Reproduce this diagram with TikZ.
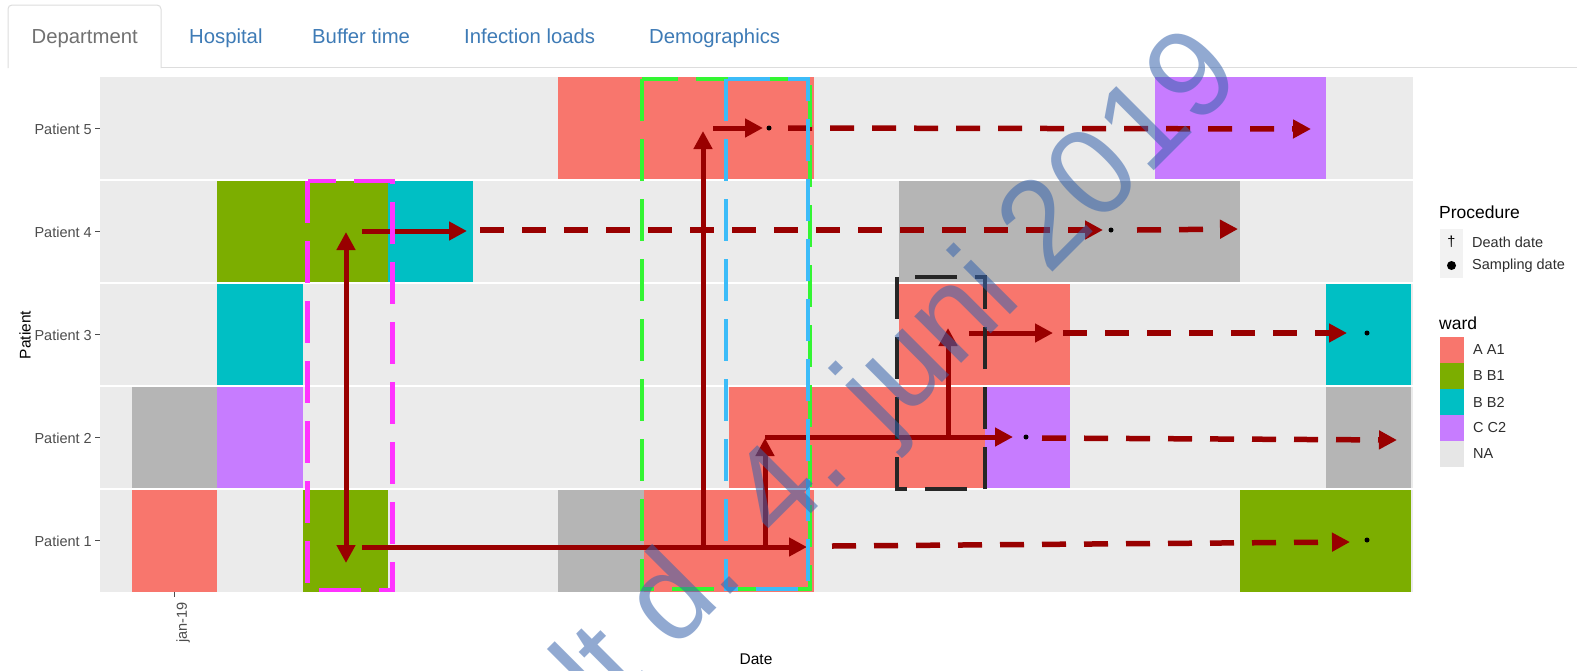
\documentclass[tikz,border=0pt]{standalone}
\usepackage{fontspec}
\setmainfont{Liberation Sans}
\usepackage{tikz}
\usepackage{xcolor}
\usetikzlibrary{arrows.meta}

\definecolor{wardA}{HTML}{F8766D}
\definecolor{wardB}{HTML}{7CAE00}
\definecolor{wardBB}{HTML}{00BFC4}
\definecolor{wardC}{HTML}{C77CFF}
\definecolor{wardNA}{HTML}{B5B5B5}
\definecolor{keyNA}{HTML}{E6E6E6}
\definecolor{panelgrey}{HTML}{EBEBEB}
\definecolor{axisgrey}{HTML}{4D4D4D}
\definecolor{tabgrey}{HTML}{DDDDDD}
\definecolor{linkblue}{HTML}{3E7BB6}
\definecolor{arrowred}{HTML}{990000}
\definecolor{boxmagenta}{HTML}{FF33FF}
\definecolor{boxgreen}{HTML}{33F533}
\definecolor{boxblue}{HTML}{3CBCF8}
\definecolor{boxblack}{HTML}{262626}
\definecolor{wmblue}{RGB}{55,100,173}

\begin{document}
\begin{tikzpicture}[
  x=1pt, y=-1pt,
  >={Triangle[length=18pt,width=18pt]},
  every node/.style={inner sep=0pt},
  tablabel/.style={font=\fontsize{20.3}{24}\selectfont, anchor=base west, text=linkblue},
  axistext/.style={font=\fontsize{14.5}{17}\selectfont, text=axisgrey},
  axistitle/.style={font=\fontsize{15.5}{18}\selectfont},
  legtitle/.style={font=\fontsize{17.5}{20}\selectfont, anchor=west},
  leglabel/.style={font=\fontsize{14.5}{17}\selectfont, anchor=west, text=axisgrey!60!black},
  solidarrow/.style={->, line width=5pt, arrowred},
  dasharrow/.style={->, line width=5.5pt, arrowred, dash pattern=on 24pt off 18pt},
  hilite/.style={line width=4.5pt, dash pattern=on 42pt off 18pt},
  sample/.style={circle, fill=black, minimum size=5pt},
  wmark/.style={font=\fontsize{125}{125}\selectfont, text=wmblue, text opacity=0.55}
]
\useasboundingbox (0,0) rectangle (1577,670);
\fill[white] (0,0) rectangle (1577,670);

% ---- TABS ----
\draw[tabgrey, line width=1pt] (161,67) -- (1577,67);
\draw[tabgrey, line width=1pt, fill=white, rounded corners=4pt]
  (8,68) -- (8,5) -- (161,5) -- (161,68);
\node[tablabel, text=axisgrey!80] (tabdept) at (31.5,43) {Department};
\node[tablabel] (tabhosp) at (189,43) {Hospital};
\node[tablabel] (tabbuffer) at (312,43) {Buffer time};
\node[tablabel] (tabinfect) at (464,43) {Infection loads};
\node[tablabel] (tabdemo) at (649,43) {Demographics};

% ==== PANEL ====
\fill[panelgrey] (100,77) rectangle (1413,592);

% ---- Patient 5 ----
\fill[wardA] (558.25,77) rectangle (814,180);
\fill[wardC] (1155,77) rectangle (1325.5,180);
% ---- Patient 4 ----
\fill[wardB] (217.25,180) rectangle (387.75,283);
\fill[wardBB] (387.75,180) rectangle (473,283);
\fill[wardNA] (899.25,180) rectangle (1240.25,283);
% ---- Patient 3 ----
\fill[wardBB] (217.25,283) rectangle (302.5,386);
\fill[wardA] (899.25,283) rectangle (1069.75,386);
\fill[wardBB] (1325.5,283) rectangle (1410.75,386);
% ---- Patient 2 ----
\fill[wardNA] (132,386) rectangle (217.25,489);
\fill[wardC] (217.25,386) rectangle (302.5,489);
\fill[wardA] (728.75,386) rectangle (984.5,489);
\fill[wardC] (984.5,386) rectangle (1069.75,489);
\fill[wardNA] (1325.5,386) rectangle (1410.75,489);
% ---- Patient 1 ----
\fill[wardA] (132,489) rectangle (217.25,592);
\fill[wardB] (302.5,489) rectangle (387.75,592);
\fill[wardNA] (558.25,489) rectangle (643.5,592);
\fill[wardA] (643.5,489) rectangle (814,592);
\fill[wardB] (1240.25,489) rectangle (1410.75,592);

% ---- row separators ----
\draw[white, line width=2pt] (100,180) -- (1413,180);
\draw[white, line width=2pt] (100,283) -- (1413,283);
\draw[white, line width=2pt] (100,386) -- (1413,386);
\draw[white, line width=2pt] (100,489) -- (1413,489);

% ---- AXES ----
\node[axistext, anchor=east] (lab5) at (92,129.5) {Patient 5};
\node[axistext, anchor=east] (lab4) at (92,232.5) {Patient 4};
\node[axistext, anchor=east] (lab3) at (92,335.5) {Patient 3};
\node[axistext, anchor=east] (lab2) at (92,438.5) {Patient 2};
\node[axistext, anchor=east] (lab1) at (92,541.5) {Patient 1};
\draw[axisgrey, line width=1.2pt] (95,128.5) -- (100,128.5);
\draw[axisgrey, line width=1.2pt] (95,231.5) -- (100,231.5);
\draw[axisgrey, line width=1.2pt] (95,334.5) -- (100,334.5);
\draw[axisgrey, line width=1.2pt] (95,437.5) -- (100,437.5);
\draw[axisgrey, line width=1.2pt] (95,540.5) -- (100,540.5);
\draw[axisgrey, line width=1.2pt] (174.5,592) -- (174.5,597);
\node[axistext, rotate=90, anchor=east] (xtick) at (183,602) {jan-19};
\node[axistitle, rotate=90] (ytitle) at (25,335) {Patient};
\node[axistitle] (xtitle) at (756,659) {Date};

% ==== CONNECTORS ====
\coordinate (p4top) at (346,232);
\coordinate (p1bot) at (346,563);
\coordinate (a4) at (362,231);   \coordinate (a4e) at (467,231);
\coordinate (a1) at (362,547);   \coordinate (a1e) at (807,547);
\coordinate (up5b) at (703,547); \coordinate (up5t) at (703,131);
\coordinate (a5) at (713,128);   \coordinate (a5e) at (763,128);
\coordinate (up2b) at (765,547); \coordinate (up2t) at (765,438);
\coordinate (a2) at (765,437);   \coordinate (a2e) at (1013,437);
\coordinate (up3b) at (948,437); \coordinate (up3t) at (948,328);
\coordinate (a3) at (969,333);   \coordinate (a3e) at (1053,333);

\draw[solidarrow, <->] (p4top) -- (p1bot);
\draw[solidarrow] (a4) -- (a4e);
\draw[solidarrow] (a1) -- (a1e);
\draw[solidarrow] (up5b) -- (up5t);
\draw[solidarrow] (a5) -- (a5e);
\draw[solidarrow] (up2b) -- (up2t);
\draw[solidarrow] (a2) -- (a2e);
\draw[solidarrow] (up3b) -- (up3t);
\draw[solidarrow] (a3) -- (a3e);

% ---- dashed follow-up ----
\coordinate (d5) at (788,128);   \coordinate (d5e) at (1311,129);
\coordinate (d4) at (480,230);   \coordinate (d4e) at (1103,230);
\coordinate (d4b) at (1137,230); \coordinate (d4be) at (1238,229);
\coordinate (d3) at (1063,333);  \coordinate (d3e) at (1347,333);
\coordinate (d2) at (1042,438);  \coordinate (d2e) at (1397,440);
\coordinate (d1) at (832,546);   \coordinate (d1e) at (1350,542);

\draw[dasharrow] (d5) -- (d5e);
\draw[dasharrow] (d4) -- (d4e);
\draw[dasharrow] (d4b) -- (d4be);
\draw[dasharrow] (d3) -- (d3e);
\draw[dasharrow] (d2) -- (d2e);
\draw[dasharrow] (d1) -- (d1e);

% ---- sampling dates ----
\node[sample] (s5) at (769,128) {};
\node[sample] (s4) at (1111,230) {};
\node[sample] (s3) at (1367,333) {};
\node[sample] (s2) at (1026,437) {};
\node[sample] (s1) at (1367,540) {};

% ==== HIGHLIGHT BOXES ====
\draw[hilite, boxmagenta] (307.5,181) rectangle (392.5,590);
\draw[hilite, boxgreen] (642,79) rectangle (810,589);
\draw[hilite, boxblue] (726,79) rectangle (808,589);
\draw[hilite, boxblack] (897,277) rectangle (985,489);

% ==== LEGEND ====
\node[legtitle] (proctitle) at (1439,212) {Procedure};
\fill[black!5] (1440,229) rectangle (1463,253.5);
\fill[black!5] (1440,253.5) rectangle (1463,278);
\node[font=\fontsize{14.5}{17}\selectfont] (deathkey) at (1451.5,242) {†};
\node[sample, minimum size=9pt] (sampkey) at (1451.5,265.5) {};
\node[leglabel] (deathlab) at (1472,242) {Death date};
\node[leglabel] (samplab) at (1472,265.5) {Sampling date};

\node[legtitle] (wardtitle) at (1439,323) {ward};
\fill[wardA] (1440,337) rectangle (1464,363);
\fill[wardB] (1440,363) rectangle (1464,389);
\fill[wardBB] (1440,389) rectangle (1464,415);
\fill[wardC] (1440,415) rectangle (1464,441);
\fill[keyNA] (1440,441) rectangle (1464,467);
\node[leglabel] (keyA) at (1473,350) {A A1};
\node[leglabel] (keyB) at (1473,376) {B B1};
\node[leglabel] (keyBB) at (1473,402) {B B2};
\node[leglabel] (keyC) at (1473,428) {C C2};
\node[leglabel] (keyNA) at (1473,454) {NA};

% ---- WATERMARK ----
\node[wmark, anchor=base west, rotate=45] (stamp) at (605,720) {lt d. 4. juni 2019};

\end{tikzpicture}
\end{document}
